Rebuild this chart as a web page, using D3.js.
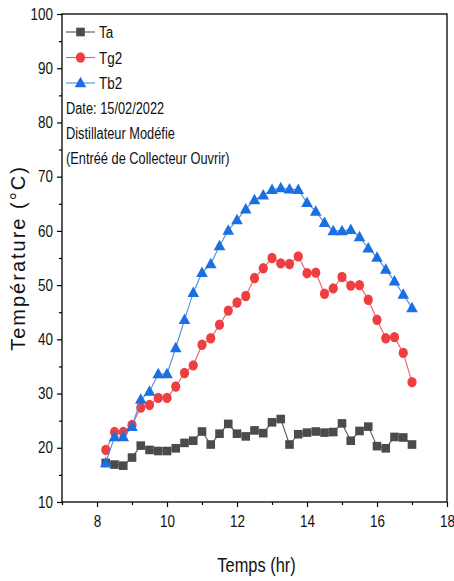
<!DOCTYPE html>
<html>
<head>
<meta charset="utf-8">
<script src="https://cdn.jsdelivr.net/npm/d3@7/dist/d3.min.js"></script>
<style>
  html, body { margin: 0; padding: 0; background: #fff; }
  svg { display: block; }
  .nar { font-family: "Liberation Sans", Arial, sans-serif; }
</style>
</head>
<body>
<script>
// Time of day (hours)
const temps = [8.25, 8.5, 8.75, 9, 9.25, 9.5, 9.75, 10, 10.25, 10.5, 10.75, 11,
  11.25, 11.5, 11.75, 12, 12.25, 12.5, 12.75, 13, 13.25, 13.5, 13.75, 14,
  14.25, 14.5, 14.75, 15, 15.25, 15.5, 15.75, 16, 16.25, 16.5, 16.75, 17];

// Ambient temperature (°C)
const Ta = [17.2, 16.9, 16.7, 18.2, 20.4, 19.6, 19.4, 19.4, 19.9, 20.9, 21.3, 23.0,
  20.6, 22.6, 24.4, 22.6, 22.1, 23.2, 22.7, 24.7, 25.3, 20.6, 22.5, 22.8,
  23.0, 22.8, 22.9, 24.5, 21.3, 23.1, 23.9, 20.3, 19.9, 22.0, 21.9, 20.6];

// Glass cover temperature (°C)
const Tg2 = [19.6, 22.9, 22.9, 24.2, 27.4, 27.9, 29.2, 29.2, 31.3, 33.8, 35.2, 39.0,
  40.2, 42.7, 45.3, 46.8, 48.0, 51.3, 53.1, 55.0, 54.0, 53.9, 55.3, 52.2,
  52.3, 48.4, 49.4, 51.5, 49.9, 50.0, 47.3, 43.6, 40.2, 40.4, 37.5, 32.1];

// Basin temperature (°C)
const Tb2 = [17.2, 22.0, 22.0, 23.9, 28.9, 30.4, 33.6, 33.6, 38.4, 43.6, 48.6, 52.3,
  53.9, 57.2, 60.1, 62.0, 64.0, 65.7, 66.6, 67.6, 67.9, 67.7, 67.6, 65.2,
  63.6, 61.5, 60.0, 60.0, 60.2, 58.9, 56.8, 55.1, 52.9, 50.7, 48.3, 45.8];

const xTicks = [8, 10, 12, 14, 16, 18];
const xMinor = [7, 9, 11, 13, 15, 17];
const yTicks = [10, 20, 30, 40, 50, 60, 70, 80, 90, 100];
const yMinor = [15, 25, 35, 45, 55, 65, 75, 85, 95];

const notes = ["Date: 15/02/2022", "Distillateur Modéfie", "(Entréé de Collecteur Ouvrir)"];

const W = 454, H = 581;
const m = { left: 62, right: 7, top: 14, bottom: 79 };

const svg = d3.select("body").append("svg").attr("width", W).attr("height", H);

const x = d3.scaleLinear().domain([7, 18]).range([m.left, W - m.right]);
const y = d3.scaleLinear().domain([10, 100]).range([H - m.bottom, m.top]);

// condensed look: squeeze glyphs horizontally
function condense(sel, k) {
  sel.each(function () {
    const len = this.getComputedTextLength();
    d3.select(this).attr("textLength", len * k).attr("lengthAdjust", "spacingAndGlyphs");
  });
}

// frame
svg.append("rect")
  .attr("x", x(7)).attr("y", y(100))
  .attr("width", x(18) - x(7)).attr("height", y(10) - y(100))
  .attr("fill", "none").attr("stroke", "#000").attr("stroke-width", 1.3);

// axes
svg.append("g").attr("class", "nar")
  .attr("transform", `translate(0,${y(10)})`)
  .call(d3.axisBottom(x).tickValues(xTicks).tickSize(5).tickPadding(9).tickFormat(d3.format("d")));
svg.append("g").attr("transform", `translate(0,${y(10)})`)
  .call(d3.axisBottom(x).tickValues(xMinor).tickSize(3).tickFormat(""));

svg.append("g").attr("class", "nar")
  .attr("transform", `translate(${x(7)},0)`)
  .call(d3.axisLeft(y).tickValues(yTicks).tickSize(5).tickPadding(4).tickFormat(d3.format("d")));
svg.append("g").attr("transform", `translate(${x(7)},0)`)
  .call(d3.axisLeft(y).tickValues(yMinor).tickSize(3).tickFormat(""));

svg.selectAll(".domain").remove();
svg.selectAll(".tick line").attr("stroke", "#000").attr("stroke-width", 1.2);
svg.selectAll(".tick text").attr("fill", "#111").style("font-size", "16px")
  .style("font-family", '"Liberation Sans", Arial, sans-serif')
  .call(condense, 0.84);

// axis titles
svg.append("text").attr("class", "nar")
  .attr("x", (x(7) + x(18)) / 2 + 2).attr("y", 572)
  .attr("text-anchor", "middle").style("font-size", "20px").attr("fill", "#111")
  .text("Temps (hr)")
  .call(condense, 0.82);

svg.append("text")
  .attr("transform", `translate(25,${258}) rotate(-90)`)
  .attr("text-anchor", "middle").style("font-size", "20px")
  .style("font-family", '"Liberation Sans", Arial, sans-serif').attr("fill", "#111")
  .attr("letter-spacing", "2px")
  .text("Température (°C)");

// series
const series = [
  { name: "Ta", values: Ta, color: "#4b4b4b", line: "#555", shape: "square" },
  { name: "Tg2", values: Tg2, color: "#ef3e42", line: "#ef5a5e", shape: "circle" },
  { name: "Tb2", values: Tb2, color: "#1c6fe0", line: "#4a8ae8", shape: "triangle" }
];

function marker(g, shape, color) {
  if (shape === "square") {
    g.append("rect").attr("x", -4.3).attr("y", -4.3).attr("width", 8.6).attr("height", 8.6).attr("fill", color);
  } else if (shape === "circle") {
    g.append("ellipse").attr("rx", 4.6).attr("ry", 5.2).attr("fill", color);
  } else {
    g.append("path").attr("d", "M0,-6.2L5.8,4.3L-5.8,4.3Z").attr("fill", color);
  }
}

const line = d3.line().x(d => x(d[0])).y(d => y(d[1]));

series.forEach(s => {
  const pts = temps.map((t, i) => [t, s.values[i]]);
  const g = svg.append("g");
  g.append("path").datum(pts).attr("d", line)
    .attr("fill", "none").attr("stroke", s.line).attr("stroke-width", 1.1);
  g.selectAll("g.pt").data(pts).enter().append("g").attr("class", "pt")
    .attr("transform", d => `translate(${x(d[0])},${y(d[1])})`)
    .each(function () { marker(d3.select(this), s.shape, s.color); });
});

// legend
const leg = svg.append("g");
series.forEach((s, i) => {
  const ly = 32 + i * 25.5;
  leg.append("line").attr("x1", 66).attr("x2", 95).attr("y1", ly).attr("y2", ly)
    .attr("stroke", s.line).attr("stroke-width", 1.1);
  const mg = leg.append("g").attr("transform", `translate(80.5,${ly})`);
  marker(mg, s.shape, s.color);
  leg.append("text").attr("class", "nar").attr("x", 99).attr("y", ly + 6)
    .style("font-size", "16px").attr("fill", "#111").text(s.name)
    .call(condense, 0.84);
});

notes.forEach((t, i) => {
  svg.append("text").attr("class", "nar").attr("x", 66).attr("y", 114 + i * 25)
    .style("font-size", "16px").attr("fill", "#111").text(t)
    .call(condense, 0.8);
});
</script>
</body>
</html>
